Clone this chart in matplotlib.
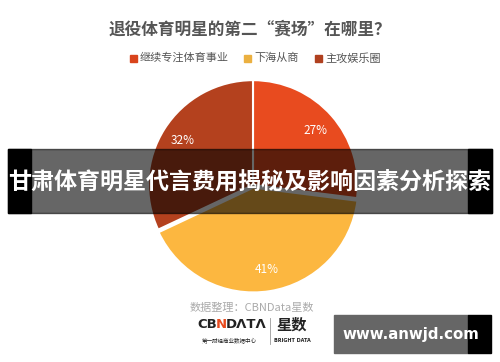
import matplotlib
matplotlib.use("Agg")
import matplotlib.pyplot as plt
from matplotlib.patches import Rectangle

plt.rcParams['font.family'] = ['Noto Sans CJK SC', 'DejaVu Sans']

title = "退役体育明星的第二“赛场”在哪里？"
categories = ["继续专注体育事业", "下海从商", "主攻娱乐圈"]
values = [27, 41, 32]
colors = ["#E84B1F", "#FCB740", "#B4411E"]
legend_colors = ["#D9441C", "#EBB040", "#B0401F"]
banner = "甘肃体育明星代言费用揭秘及影响因素分析探索"
source = "数据整理：CBNData星数"
watermark = "www.anwjd.com"

W, H = 500, 362
fig = plt.figure(figsize=(W / 100, H / 100), dpi=100)
fig.patch.set_facecolor("white")

def fx(x):
    return x / W

def fy(y):
    return 1 - y / H

# Pie
cx, cy, R = 253, 185, 108
ax = fig.add_axes([fx(cx - R), fy(cy + R), 2 * R / W, 2 * R / H])
wedges, texts, autotexts = ax.pie(
    values, colors=colors, startangle=90, counterclock=False,
    explode=[0, 0.025, 0], autopct="%d%%", pctdistance=0.79,
    wedgeprops=dict(edgecolor="white", linewidth=1.5),
    textprops=dict(color="white", fontsize=8.5))
ax.set_xlim(-1.03, 1.03)
ax.set_ylim(-1.03, 1.03)
ax.set_aspect("equal")
ax.axis("off")

# Title
fig.text(0.5, fy(29), title, ha="center", va="center", fontsize=12,
         fontweight="bold", color="#555555")

# Legend
lx = [133, 247, 318]
for x, c, lab in zip(lx, legend_colors, categories):
    fig.patches.append(Rectangle((fx(x - 3.5), fy(58 + 3.5)), 7 / W, 7 / H,
                                 transform=fig.transFigure, color=c))
    fig.text(fx(x + 7), fy(58), lab, ha="left", va="center", fontsize=8,
             color="#555555")

# Banner
fig.patches.append(Rectangle((fx(8), fy(213)), 484 / W, 64 / H,
                             transform=fig.transFigure, color="black",
                             alpha=0.6, zorder=5))
for x0, x1 in [(8, 31), (468, 492)]:
    fig.patches.append(Rectangle((fx(x0), fy(213)), (x1 - x0) / W, 64 / H,
                                 transform=fig.transFigure, color="black",
                                 zorder=6))
fig.text(0.5, fy(182), banner, ha="center", va="center", fontsize=16.6,
         fontweight="bold", color="white", zorder=7)

# Source
fig.text(fx(252), fy(308), source, ha="center", va="center", fontsize=8,
         color="#AAAAAA")

# Logos
fig.text(fx(197), fy(325), "CB", ha="left", va="center", fontsize=9.5,
         fontweight="bold", color="#222222", family="DejaVu Sans")
fig.text(fx(216), fy(325), "N", ha="left", va="center", fontsize=9.5,
         fontweight="bold", color="#E84B1F", family="DejaVu Sans")
fig.text(fx(226), fy(325), "DΛTΛ", ha="left", va="center", fontsize=9.5,
         fontweight="bold", color="#222222", family="DejaVu Sans")
fig.text(fx(229), fy(340), "第一财经商业数据中心", ha="center", va="center",
         fontsize=4, color="#222222")
fig.lines.append(plt.Line2D([fx(270), fx(270)], [fy(318), fy(344)],
                            transform=fig.transFigure, color="#999999",
                            linewidth=0.6))
fig.text(fx(292), fy(325), "星数", ha="center", va="center", fontsize=11,
         fontweight="bold", color="#222222")
fig.text(fx(292), fy(341), "BRIGHT DATA", ha="center", va="center",
         fontsize=3.5, fontweight="bold", color="#222222",
         family="DejaVu Sans")

# Watermark
fig.patches.append(Rectangle((fx(334), fy(353)), (468 - 334) / W, 38 / H,
                             transform=fig.transFigure, color="#666666",
                             zorder=5))
fig.patches.append(Rectangle((fx(468), fy(353)), (491 - 468) / W, 38 / H,
                             transform=fig.transFigure, color="black",
                             zorder=5))
fig.text(fx(411), fy(335), watermark, ha="center", va="center", fontsize=10.8,
         fontweight="bold", color="white", zorder=7, family="DejaVu Sans")

fig.savefig("out.png", dpi=100)
